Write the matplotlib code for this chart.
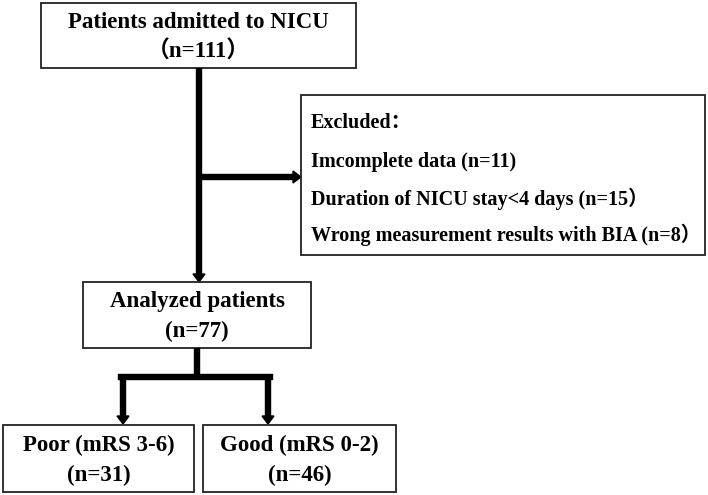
import matplotlib
matplotlib.use("Agg")
import matplotlib.pyplot as plt
from matplotlib.patches import Rectangle, Polygon

W, H = 708, 495
FONT = ['Liberation Serif', 'Noto Sans CJK SC', 'DejaVu Sans']

# flowchart content
top_title = "Patients admitted to NICU"
top_count = "（n=111）"
excluded_head = "Excluded："
excluded_items = ["Imcomplete data (n=11)",
                  "Duration of NICU stay<4 days (n=15）",
                  "Wrong measurement results with BIA (n=8）"]
analyzed_title = "Analyzed patients"
analyzed_count = "(n=77)"
group_titles = ["Poor (mRS 3-6)", "Good (mRS 0-2)"]
group_counts = ["(n=31)", "(n=46)"]

LW = 4.6  # ~6 px
HEAD_W, HEAD_L = 6, 8
BOX_FS = 16.5
EXC_FS = 14.5


def box(ax, x0, y0, x1, y1):
    ax.add_patch(Rectangle((x0, y0), x1 - x0, y1 - y0, fill=False,
                           edgecolor='#222222', linewidth=1.3))


def two_line(ax, x0, y0, x1, y1, title, count, size=BOX_FS):
    cx = (x0 + x1) / 2
    h = y1 - y0
    ax.text(cx, y0 + h * 0.30, title, ha='center', va='center',
            fontsize=size, fontweight='bold', family=FONT)
    ax.text(cx, y0 + h * 0.75, count, ha='center', va='center',
            fontsize=size, fontweight='bold', family=FONT)


def arrow_down(ax, x, y0, y1):
    ax.plot([x, x], [y0, y1 - HEAD_L + 1], color='black', lw=LW,
            solid_capstyle='butt')
    ax.add_patch(Polygon([(x - HEAD_W, y1 - HEAD_L), (x + HEAD_W, y1 - HEAD_L), (x, y1)],
                         closed=True, color='black'))


def arrow_right(ax, x0, x1, y):
    ax.plot([x0, x1 - HEAD_L + 1], [y, y], color='black', lw=LW,
            solid_capstyle='butt')
    ax.add_patch(Polygon([(x1 - HEAD_L, y - HEAD_W), (x1 - HEAD_L, y + HEAD_W), (x1, y)],
                         closed=True, color='black'))


fig = plt.figure(figsize=(W / 100, H / 100), dpi=100)
ax = fig.add_axes([0, 0, 1, 1])
ax.set_xlim(0, W)
ax.set_ylim(H, 0)
ax.axis('off')

# top box
box(ax, 41, 3, 356, 68)
two_line(ax, 41, 3, 356, 68, top_title, top_count)

# main trunk and exclusion branch
arrow_down(ax, 199, 68, 282)
arrow_right(ax, 199, 301, 177)

# excluded box
box(ax, 301, 95, 705, 255)
ax.text(311, 123, excluded_head, ha='left', va='center',
        fontsize=EXC_FS, fontweight='bold', family=FONT)
for i, item in enumerate(excluded_items):
    ax.text(311, 162 + i * 36.5, item, ha='left', va='center',
            fontsize=EXC_FS, fontweight='bold', family=FONT)

# analyzed box
box(ax, 83, 282, 311, 348)
two_line(ax, 83, 282, 311, 348, analyzed_title, analyzed_count)

# split
ax.plot([197, 197], [348, 377], color='black', lw=LW, solid_capstyle='butt')
ax.plot([121, 270], [377, 377], color='black', lw=LW, solid_capstyle='projecting')
arrow_down(ax, 123, 377, 424)
arrow_down(ax, 268, 377, 424)

# outcome boxes
boxes = [(3, 194), (203, 396)]
for (x0, x1), t, c in zip(boxes, group_titles, group_counts):
    box(ax, x0, 425, x1, 492)
    two_line(ax, x0, 425, x1, 492, t, c)

fig.savefig("out.png", dpi=100, facecolor='white')
